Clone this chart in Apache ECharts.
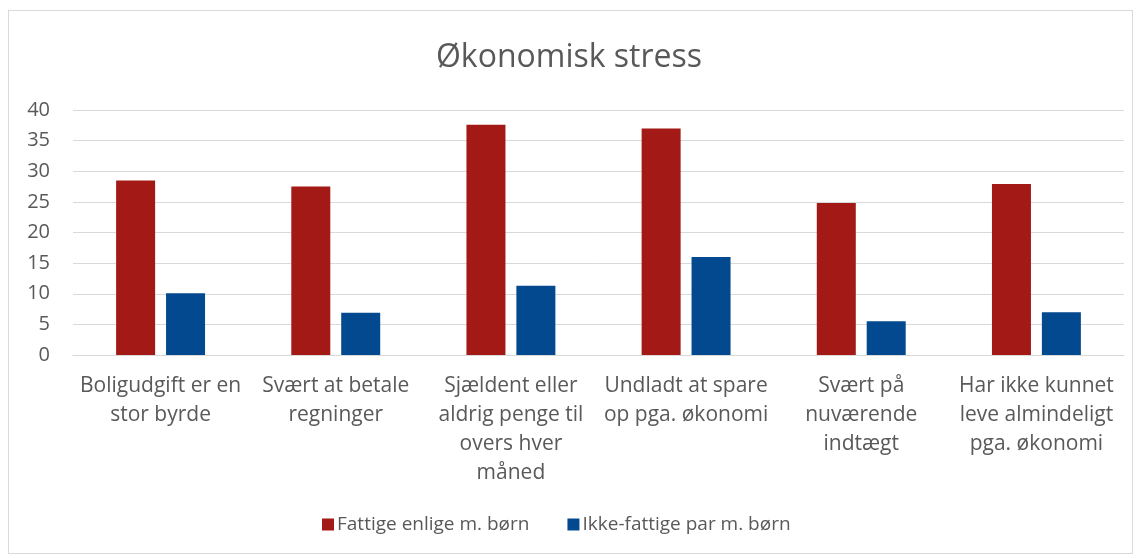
<!DOCTYPE html>
<html>
<head>
<meta charset="utf-8">
<script src="https://cdn.jsdelivr.net/npm/echarts@6/dist/echarts.min.js"></script>
<style>
  html, body { margin: 0; padding: 0; background: #fff; }
  #frame { position: absolute; left: 8px; top: 10px; width: 1123px; height: 542px; border: 1px solid #d9d9d9; }
  #main { position: absolute; left: 0; top: 0; width: 1138px; height: 558px; }
</style>
</head>
<body>
<div id="frame"></div>
<div id="main"></div>
<script>
  // data
  const categories = [
    'Boligudgift er en\nstor byrde',
    'Svært at betale\nregninger',
    'Sjældent eller\naldrig penge til\novers hver\nmåned',
    'Undladt at spare\nop pga. økonomi',
    'Svært på\nnuværende\nindtægt',
    'Har ikke kunnet\nleve almindeligt\npga. økonomi'
  ]
  const fattigeEnlige = [28.5, 27.5, 37.6, 37.0, 24.8, 27.9]
  const ikkeFattigePar = [10.1, 6.9, 11.3, 16.0, 5.5, 7.0]
  const seriesNames = ['Fattige enlige m. børn', 'Ikke-fattige par m. børn']

  const font = '"Open Sans", Lato, sans-serif'
  const textColor = '#595959'

  let myChart = echarts.init(document.getElementById('main'))
  myChart.setOption({
    animation: false,
    title: {
      text: 'Økonomisk stress',
      left: 'center',
      top: 37,
      textStyle: { fontFamily: font, fontSize: 32, fontWeight: 'normal', color: textColor }
    },
    legend: {
      data: seriesNames,
      bottom: 19,
      left: 317,
      itemWidth: 12,
      itemHeight: 12,
      itemGap: 38,
      icon: 'rect',
      textStyle: { fontFamily: font, fontSize: 19, color: textColor, padding: [0, 0, 0, -2] }
    },
    grid: { left: 73, right: 14, top: 110, bottom: 203 },
    xAxis: {
      type: 'category',
      data: categories,
      axisTick: { show: false },
      axisLine: { lineStyle: { color: '#d9d9d9', width: 1 } },
      axisLabel: {
        interval: 0,
        margin: 17,
        fontFamily: font,
        fontSize: 21,
        lineHeight: 29,
        color: textColor
      }
    },
    yAxis: {
      type: 'value',
      min: 0,
      max: 40,
      interval: 5,
      axisLine: { show: false },
      axisTick: { show: false },
      splitLine: { lineStyle: { color: '#d9d9d9', width: 1 } },
      axisLabel: { margin: 23, fontFamily: font, fontSize: 20, color: textColor }
    },
    series: [
      {
        name: seriesNames[0],
        type: 'bar',
        data: fattigeEnlige,
        barWidth: 39,
        barGap: '28%',
        itemStyle: { color: '#a31915' }
      },
      {
        name: seriesNames[1],
        type: 'bar',
        data: ikkeFattigePar,
        barWidth: 39,
        itemStyle: { color: '#02498f' }
      }
    ]
  })
</script>
</body>
</html>
